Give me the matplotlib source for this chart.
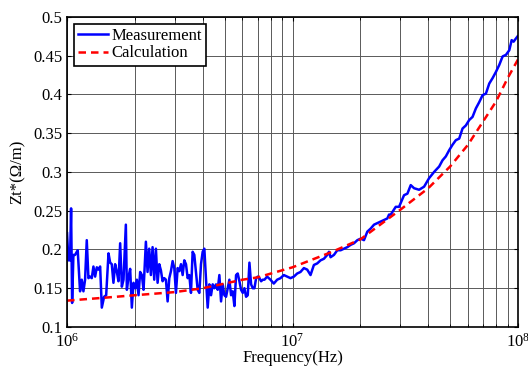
import numpy as np
import matplotlib
matplotlib.use("Agg")
import matplotlib.pyplot as plt
from matplotlib.ticker import LogLocator, MultipleLocator, FormatStrFormatter

# measured transfer impedance, frequency in MHz
meas_f = [1.0, 1.014, 1.031, 1.042, 1.053, 1.067, 1.085, 1.115, 1.142, 1.162,
          1.182, 1.202, 1.223, 1.244, 1.265, 1.287, 1.309, 1.332, 1.355, 1.378,
          1.402, 1.426, 1.460, 1.491, 1.527, 1.553, 1.579, 1.606, 1.634, 1.663,
          1.691, 1.720, 1.750, 1.780, 1.823, 1.842, 1.874, 1.905, 1.938, 1.971,
          2.005, 2.040, 2.075, 2.110, 2.147, 2.184, 2.237, 2.275, 2.314, 2.354,
          2.395, 2.436, 2.478, 2.521, 2.564, 2.608, 2.653, 2.699, 2.745, 2.793,
          2.841, 2.889, 2.939, 2.990, 3.041, 3.094, 3.147, 3.201, 3.256, 3.311,
          3.369, 3.427, 3.485, 3.545, 3.606, 3.668, 3.731, 3.796, 3.861, 3.927,
          3.995, 4.064, 4.134, 4.205, 4.277, 4.351, 4.426, 4.502, 4.579, 4.658,
          4.738, 4.820, 4.903, 4.987, 5.073, 5.160, 5.248, 5.339, 5.431, 5.524,
          5.619, 5.715, 5.814, 5.914, 6.016, 6.119, 6.224, 6.331, 6.440, 6.551,
          6.664, 6.778, 6.895, 7.014, 7.134, 7.257, 7.382, 7.509, 7.717,
          7.984, 8.260, 8.548, 8.845, 9.152, 9.469, 9.797, 10.14, 10.49, 10.85,
          11.23, 11.62, 12.02, 12.44, 12.87, 13.32, 13.78, 14.26, 14.51, 14.75,
          15.27, 15.80, 16.35, 16.91, 17.50, 18.11, 18.74, 19.39, 20.06, 20.75,
          21.47, 22.22, 22.99, 23.79, 24.61, 25.46, 26.34, 26.80, 27.27, 28.70,
          29.69, 31.24, 32.33, 33.45, 34.61, 36.43, 38.34, 40.35, 42.46, 44.72,
          46.27, 47.86, 49.53, 51.24, 53.03, 54.87, 56.77, 58.75, 60.78, 62.88,
          65.07, 67.32, 69.66, 72.07, 74.58, 77.16, 79.84, 82.60, 85.48, 88.45,
          91.52, 93.76, 95.66, 97.27, 99.66]
meas_z = [0.221, 0.186, 0.186, 0.253, 0.131, 0.193, 0.193, 0.199, 0.146, 0.161,
          0.146, 0.161, 0.212, 0.163, 0.165, 0.163, 0.178, 0.165, 0.177, 0.174,
          0.178, 0.125, 0.139, 0.141, 0.195, 0.183, 0.181, 0.157, 0.181, 0.171,
          0.159, 0.208, 0.152, 0.161, 0.232, 0.148, 0.165, 0.175, 0.125, 0.157,
          0.150, 0.161, 0.141, 0.171, 0.167, 0.148, 0.210, 0.171, 0.201, 0.167,
          0.203, 0.161, 0.201, 0.157, 0.181, 0.173, 0.159, 0.163, 0.161, 0.133,
          0.163, 0.172, 0.185, 0.176, 0.144, 0.176, 0.172, 0.181, 0.167, 0.186,
          0.181, 0.163, 0.167, 0.144, 0.197, 0.193, 0.171, 0.148, 0.144, 0.181,
          0.197, 0.201, 0.161, 0.125, 0.155, 0.141, 0.155, 0.150, 0.155, 0.148,
          0.167, 0.133, 0.155, 0.141, 0.139, 0.150, 0.161, 0.141, 0.146, 0.127,
          0.167, 0.169, 0.159, 0.148, 0.144, 0.150, 0.139, 0.141, 0.183, 0.155,
          0.150, 0.150, 0.163, 0.165, 0.163, 0.159, 0.161, 0.161, 0.165,
          0.161, 0.156, 0.161, 0.163, 0.167, 0.165, 0.163, 0.165, 0.169, 0.171,
          0.176, 0.174, 0.167, 0.180, 0.182, 0.186, 0.188, 0.193, 0.197, 0.190,
          0.193, 0.199, 0.199, 0.201, 0.203, 0.206, 0.208, 0.212, 0.214, 0.212,
          0.223, 0.227, 0.232, 0.234, 0.236, 0.238, 0.240, 0.245, 0.245, 0.255,
          0.255, 0.270, 0.272, 0.283, 0.279, 0.277, 0.281, 0.292, 0.300, 0.307,
          0.315, 0.320, 0.328, 0.335, 0.341, 0.343, 0.356, 0.360, 0.367, 0.371,
          0.382, 0.390, 0.399, 0.401, 0.414, 0.421, 0.429, 0.438, 0.449, 0.451,
          0.457, 0.470, 0.468, 0.471, 0.475]

# calculated curve, frequency in MHz
calc_f = [1.0, 1.5, 2.0, 3.0, 4.0, 5.0, 6.0, 7.0, 10.0, 15.0, 20.0,
          30.0, 40.0, 50.0, 60.0, 70.0, 80.0, 90.0, 100.0]
calc_z = [0.134, 0.138, 0.141, 0.145, 0.150, 0.156, 0.161, 0.164, 0.177, 0.197, 0.213,
          0.251, 0.279, 0.307, 0.335, 0.365, 0.391, 0.421, 0.445]

plt.rcParams['font.family'] = ['Liberation Serif', 'DejaVu Serif']
plt.rcParams['mathtext.fontset'] = 'stix'

fig = plt.figure(figsize=(5.28, 3.67), dpi=100)
ax = fig.add_axes([0.127, 0.109, 0.854, 0.845])

ax.plot(np.array(meas_f) * 1e6, meas_z, color='#0000ff', lw=1.8, label='Measurement')
ax.plot(np.array(calc_f) * 1e6, calc_z, color='#ff0000', lw=1.8, ls='--',
        dashes=(3, 2), label='Calculation')

ax.set_xscale('log')
ax.set_xlim(1e6, 1e8)
ax.set_ylim(0.1, 0.5)
ax.xaxis.set_major_locator(LogLocator(base=10, numticks=5))
ax.xaxis.set_minor_locator(LogLocator(base=10, subs=np.arange(2, 10), numticks=20))
ax.yaxis.set_major_locator(MultipleLocator(0.05))
ax.yaxis.set_major_formatter(FormatStrFormatter('%g'))

ax.grid(True, which='both', axis='x', color='0.35', lw=0.7)
ax.grid(True, which='major', axis='y', color='0.35', lw=0.7)
ax.tick_params(which='both', direction='in', top=True, right=True, labelsize=12)
ax.tick_params(which='major', length=3)
ax.tick_params(which='minor', length=2)
ax.tick_params(axis='x', pad=4)
for s in ax.spines.values():
    s.set_linewidth(1.2)

ax.set_xlabel('Frequency(Hz)', fontsize=12, labelpad=0)
ax.set_ylabel('Zt*(Ω/m)', fontsize=12, labelpad=5)

leg = ax.legend(loc='upper left', fontsize=12, frameon=True, fancybox=False,
                edgecolor='black', framealpha=1, borderpad=0.25, labelspacing=0.1,
                handlelength=1.8, handletextpad=0.2, borderaxespad=0.4)
leg.get_frame().set_linewidth(1.2)

fig.savefig('out.png', dpi=100)
